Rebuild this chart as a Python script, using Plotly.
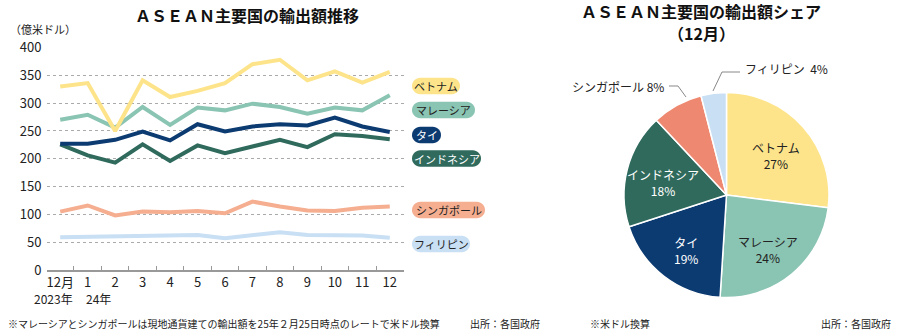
import math
import plotly.graph_objects as go

W, H = 900, 336
FONT = "Noto Sans CJK JP"

# ---- monthly exports (100 million USD) ----
months = ["12月", "1", "2", "3", "4", "5", "6", "7", "8", "9", "10", "11", "12"]
vietnam = [330, 336, 250, 341, 311, 322, 336, 370, 378, 341, 357, 337, 356]
malaysia = [270, 279, 256, 293, 261, 292, 287, 299, 293, 281, 292, 287, 314]
thailand = [227, 227, 234, 249, 233, 262, 249, 258, 262, 260, 274, 258, 248]
indonesia = [226, 206, 193, 226, 196, 224, 210, 222, 234, 221, 244, 241, 235]
singapore = [105, 116, 98, 105, 104, 106, 102, 123, 114, 107, 106, 112, 114]
philippines = [59, 60, 60, 62, 63, 63, 57, 63, 68, 63, 62, 62, 58]

# ---- December share (%) ----
share_names = ["ベトナム", "マレーシア", "タイ", "インドネシア", "シンガポール", "フィリピン"]
share_values = [27, 24, 19, 18, 8, 4]

y_ticks = [0, 50, 100, 150, 200, 250, 300, 350, 400]

line_colors = {
    "ベトナム": "#FDE48A",
    "マレーシア": "#8AC4B2",
    "タイ": "#0C3B72",
    "インドネシア": "#2F6A5D",
    "シンガポール": "#F5AE90",
    "フィリピン": "#C8DFF4",
}
pie_colors = ["#FDE48A", "#8AC4B2", "#0C3B72", "#2F6A5D", "#EE8870", "#C8DFF4"]


def px(x):
    return x / W


def py(y):
    return 1 - y / H


def label(text, x, y, size, color="#222", xanchor="center"):
    return dict(text=text, x=px(x), y=py(y), xref="paper", yref="paper",
                xanchor=xanchor, yanchor="middle", showarrow=False,
                font=dict(size=size, color=color))


fig = go.Figure()

series = [
    ("フィリピン", philippines),
    ("シンガポール", singapore),
    ("インドネシア", indonesia),
    ("タイ", thailand),
    ("マレーシア", malaysia),
    ("ベトナム", vietnam),
]
for name, vals in series:
    fig.add_trace(go.Scatter(
        x=months, y=vals, mode="lines", name=name,
        line=dict(color=line_colors[name], width=4),
        showlegend=False, hoverinfo="skip",
    ))

# plot box in pixels
PL, PR, PT, PB = 46.5, 403.5, 47.5, 270.0

fig.update_layout(
    width=W, height=H, autosize=False,
    margin=dict(l=0, r=0, t=0, b=0, autoexpand=False),
    paper_bgcolor="white", plot_bgcolor="white",
    font=dict(family=FONT, size=13, color="#222"),
    xaxis=dict(
        domain=[px(PL), px(PR)], type="category", range=[-0.5, 12.5],
        tickson="boundaries", ticks="inside", ticklen=4, tickcolor="#999",
        showline=True, linecolor="#999", linewidth=1.5,
        showgrid=False, zeroline=False, fixedrange=True, tickangle=0,
        automargin=False, tickfont=dict(size=13, color="#222"),
    ),
    yaxis=dict(
        domain=[py(PB), py(PT)], range=[0, 400],
        tickvals=y_ticks, ticktext=[str(v) for v in y_ticks],
        showgrid=True, gridcolor="#aaa", griddash="dot", gridwidth=1,
        zeroline=False, showline=False, ticks="", fixedrange=True,
        automargin=False, tickfont=dict(size=13, color="#222"),
        ticklabelstandoff=4,
    ),
)

annotations = []
shapes = []

# titles
annotations.append(label("<b>ＡＳＥＡＮ主要国の輸出額推移</b>", 247, 15, 16, "#111"))
annotations.append(label("<b>ＡＳＥＡＮ主要国の輸出額シェア</b>", 701, 11, 16, "#111"))
annotations.append(label("<b>（12月）</b>", 701, 33.5, 16, "#111"))
annotations.append(label("（億米ドル）", 8, 29, 11, xanchor="left"))

# year labels beneath month ticks
annotations.append(label("2023年", 53, 298.5, 12))
annotations.append(label("24年", 98, 298.5, 12))

# footnotes
annotations.append(label("※マレーシアとシンガポールは現地通貨建ての輸出額を25年２月25日時点のレートで米ドル換算",
                         6, 323, 10, xanchor="left"))
annotations.append(label("出所：各国政府", 468, 323, 10, xanchor="left"))
annotations.append(label("※米ドル換算", 588, 323, 10, xanchor="left"))
annotations.append(label("出所：各国政府", 893, 323, 10, xanchor="right"))


def pill_path(x0, x1, yc, h):
    r = h / 2.0
    k = 0.5523 * r
    yt, yb = yc - r, yc + r
    pts = [
        ("M", [(x0 + r, yt)]),
        ("L", [(x1 - r, yt)]),
        ("C", [(x1 - r + k, yt), (x1, yc - k), (x1, yc)]),
        ("C", [(x1, yc + k), (x1 - r + k, yb), (x1 - r, yb)]),
        ("L", [(x0 + r, yb)]),
        ("C", [(x0 + r - k, yb), (x0, yc + k), (x0, yc)]),
        ("C", [(x0, yc - k), (x0 + r - k, yt), (x0 + r, yt)]),
    ]
    s = ""
    for cmd, plist in pts:
        s += cmd + " " + " ".join(f"{px(a):.5f},{py(b):.5f}" for a, b in plist) + " "
    return s + "Z"


# name badges at the right of the line chart
badges = [
    ("ベトナム", 412, 460, 86, "#222"),
    ("マレーシア", 412, 475, 110, "#222"),
    ("タイ", 412, 441, 135, "white"),
    ("インドネシア", 412, 481, 158.5, "white"),
    ("シンガポール", 412, 485, 210, "#222"),
    ("フィリピン", 412, 470, 244, "#222"),
]
for name, x0, x1, yc, tc in badges:
    shapes.append(dict(type="path", path=pill_path(x0, x1, yc, 16.5),
                       xref="paper", yref="paper",
                       fillcolor=line_colors[name], line=dict(width=0)))
    annotations.append(label(name, (x0 + x1) / 2, yc, 11, tc))

# ---- share pie ----
CX, CY, R = 726.5, 195.0, 102.5
fig.add_trace(go.Pie(
    labels=share_names, values=share_values, sort=False,
    direction="clockwise", rotation=0,
    marker=dict(colors=pie_colors, line=dict(color="white", width=1.5)),
    textinfo="none", hoverinfo="skip", showlegend=False,
    domain=dict(x=[px(CX - R), px(CX + R)], y=[py(CY + R), py(CY - R)]),
))

total = sum(share_values)
cum = 0.0
inside_colors = ["#222", "#222", "white", "white"]
for i, (name, v) in enumerate(zip(share_names, share_values)):
    mid = (cum + v / 2) / total * 2 * math.pi
    cum += v
    if i < 4:
        rr = 0.64 * R
        lx = CX + rr * math.sin(mid)
        ly = CY - rr * math.cos(mid) + 4
        annotations.append(label(f"{name}<br>{v}%", lx, ly, 12, inside_colors[i]))

# outside labels with leader lines for the two small slices
annotations.append(label(f"{share_names[4]} {share_values[4]}%", 666, 86, 12, xanchor="right"))
shapes.append(dict(type="path",
                   path=f"M {px(686):.5f},{py(97):.5f} L {px(678):.5f},{py(86):.5f} L {px(669):.5f},{py(86):.5f}",
                   xref="paper", yref="paper", line=dict(color="#888", width=1)))
annotations.append(label(f"{share_names[5]}  {share_values[5]}%", 743, 69, 12, xanchor="left"))
shapes.append(dict(type="path",
                   path=f"M {px(713):.5f},{py(91):.5f} L {px(722):.5f},{py(72):.5f} L {px(740):.5f},{py(72):.5f}",
                   xref="paper", yref="paper", line=dict(color="#888", width=1)))

fig.update_layout(annotations=annotations, shapes=shapes)

fig.write_html("out.html")
